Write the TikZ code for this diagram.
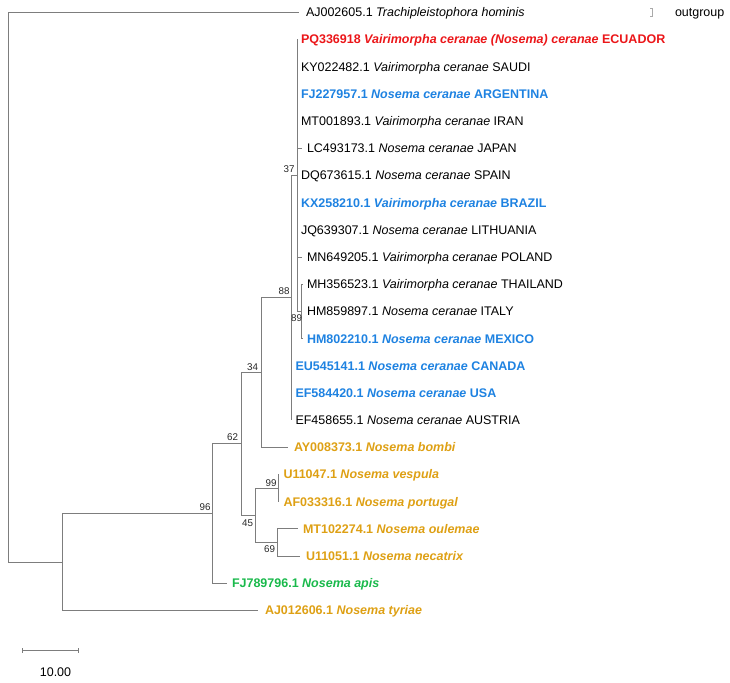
\documentclass[tikz,border=0pt]{standalone}
\usepackage{fontspec}
\setmainfont{Liberation Sans}
\definecolor{cred}{RGB}{235,22,25}
\definecolor{cblue}{RGB}{30,130,225}
\definecolor{cgold}{RGB}{222,160,20}
\definecolor{cgreen}{RGB}{25,185,75}
\definecolor{lgray}{RGB}{125,125,125}
\definecolor{bgray}{RGB}{170,170,170}
\newcommand{\leaffont}{\fontsize{12.5}{15}\selectfont}
\newcommand{\bsfont}{\fontsize{9.8}{11}\selectfont}
\tikzset{
  br/.style={draw=lgray, line width=0.75pt},
  lf/.style={anchor=west, inner sep=0pt, outer sep=0pt, font=\leaffont, text height=9pt, text depth=0pt},
  bs/.style={inner sep=0pt, font=\bsfont, text=black!85},
}
\begin{document}
\begin{tikzpicture}[x=1pt,y=-1pt]
\useasboundingbox (0,0) rectangle (730,682);
% internal nodes
\coordinate (root) at (8,287.1);
\coordinate (nB) at (62,561.9);
\coordinate (n96) at (212,513.4);
\coordinate (n62) at (241,443.8);
\coordinate (n34) at (261,372.4);
\coordinate (n88) at (291,297.7);
\coordinate (n37) at (297,175.4);
\coordinate (n89) at (301.5,311.3);
\coordinate (n45) at (255,515.1);
\coordinate (n99) at (278,488.0);
\coordinate (n69) at (277,542.3);
% leaf tips
\coordinate (t0) at (299,12.3);
\coordinate (t1) at (297,39.5);
\coordinate (t2) at (297,66.7);
\coordinate (t3) at (297,93.8);
\coordinate (t4) at (297,121.0);
\coordinate (t5) at (302,148.2);
\coordinate (t6) at (297,175.4);
\coordinate (t7) at (297,202.6);
\coordinate (t8) at (297,229.7);
\coordinate (t9) at (302,256.9);
\coordinate (t10) at (302.5,284.1);
\coordinate (t11) at (301.5,311.3);
\coordinate (t12) at (302.5,338.5);
\coordinate (t13) at (291,365.6);
\coordinate (t14) at (291,392.8);
\coordinate (t15) at (291,420.0);
\coordinate (t16) at (288,447.2);
\coordinate (t17) at (278,474.4);
\coordinate (t18) at (278,501.5);
\coordinate (t19) at (298,528.7);
\coordinate (t20) at (300,555.9);
\coordinate (t21) at (227,583.1);
\coordinate (t22) at (258,610.3);
% branches
\draw[br] (root) |- (t0);
\draw[br] (root) |- (nB);
\draw[br] (nB) |- (n96);
\draw[br] (nB) |- (t22);
\draw[br] (n96) |- (n62);
\draw[br] (n96) |- (t21);
\draw[br] (n62) |- (n34);
\draw[br] (n62) |- (n45);
\draw[br] (n34) |- (n88);
\draw[br] (n34) |- (t16);
\draw[br] (n88) |- (n37);
\draw[br] (n88) |- (t13);
\draw[br] (n88) |- (t14);
\draw[br] (n88) |- (t15);
\draw[br] (n37) |- (t1);
\draw[br] (n37) |- (t2);
\draw[br] (n37) |- (t3);
\draw[br] (n37) |- (t4);
\draw[br] (n37) |- (t5);
\draw[br] (n37) |- (t6);
\draw[br] (n37) |- (t7);
\draw[br] (n37) |- (t8);
\draw[br] (n37) |- (t9);
\draw[br] (n37) |- (n89);
\draw[br] (n89) |- (t10);
\draw[br] (n89) |- (t11);
\draw[br] (n89) |- (t12);
\draw[br] (n45) |- (n99);
\draw[br] (n45) |- (n69);
\draw[br] (n99) |- (t17);
\draw[br] (n99) |- (t18);
\draw[br] (n69) |- (t19);
\draw[br] (n69) |- (t20);
% leaf labels
\node[lf] (L0) at (306,12.3) {AJ002605.1 \textit{Trachipleistophora hominis}};
\node[lf, text=cred] (L1) at (301,39.5) {\textbf{PQ336918 \textit{Vairimorpha ceranae (Nosema) ceranae} ECUADOR}};
\node[lf] (L2) at (301,66.7) {KY022482.1 \textit{Vairimorpha ceranae} SAUDI};
\node[lf, text=cblue] (L3) at (301,93.8) {\textbf{FJ227957.1 \textit{Nosema ceranae} ARGENTINA}};
\node[lf] (L4) at (301,121.0) {MT001893.1 \textit{Vairimorpha ceranae} IRAN};
\node[lf] (L5) at (307,148.2) {LC493173.1 \textit{Nosema ceranae} JAPAN};
\node[lf] (L6) at (301,175.4) {DQ673615.1 \textit{Nosema ceranae} SPAIN};
\node[lf, text=cblue] (L7) at (301,202.6) {\textbf{KX258210.1 \textit{Vairimorpha ceranae} BRAZIL}};
\node[lf] (L8) at (301,229.7) {JQ639307.1 \textit{Nosema ceranae} LITHUANIA};
\node[lf] (L9) at (307,256.9) {MN649205.1 \textit{Vairimorpha ceranae} POLAND};
\node[lf] (L10) at (307,284.1) {MH356523.1 \textit{Vairimorpha ceranae} THAILAND};
\node[lf] (L11) at (307,311.3) {HM859897.1 \textit{Nosema ceranae} ITALY};
\node[lf, text=cblue] (L12) at (307,338.5) {\textbf{HM802210.1 \textit{Nosema ceranae} MEXICO}};
\node[lf, text=cblue] (L13) at (295.5,365.6) {\textbf{EU545141.1 \textit{Nosema ceranae} CANADA}};
\node[lf, text=cblue] (L14) at (295.5,392.8) {\textbf{EF584420.1 \textit{Nosema ceranae} USA}};
\node[lf] (L15) at (295.5,420.0) {EF458655.1 \textit{Nosema ceranae} AUSTRIA};
\node[lf, text=cgold] (L16) at (294,447.2) {\textbf{AY008373.1 \textit{Nosema bombi}}};
\node[lf, text=cgold] (L17) at (283.5,474.4) {\textbf{U11047.1 \textit{Nosema vespula}}};
\node[lf, text=cgold] (L18) at (283.5,501.5) {\textbf{AF033316.1 \textit{Nosema portugal}}};
\node[lf, text=cgold] (L19) at (303,528.7) {\textbf{MT102274.1 \textit{Nosema oulemae}}};
\node[lf, text=cgold] (L20) at (306,555.9) {\textbf{U11051.1 \textit{Nosema necatrix}}};
\node[lf, text=cgreen] (L21) at (232,583.1) {\textbf{FJ789796.1 \textit{Nosema apis}}};
\node[lf, text=cgold] (L22) at (265,610.3) {\textbf{AJ012606.1 \textit{Nosema tyriae}}};
% bootstrap values
\node[bs] (b37) at (289,169) {37};
\node[bs] (b88) at (284,291) {88};
\node[bs] (b89) at (296.5,318) {89};
\node[bs] (b34) at (252.5,367) {34};
\node[bs] (b62) at (232.5,437) {62};
\node[bs] (b96) at (205,507) {96};
\node[bs] (b99) at (271,483) {99};
\node[bs] (b45) at (247.5,523) {45};
\node[bs] (b69) at (269.5,549) {69};
% outgroup bracket
\coordinate (bk1) at (650,8);
\coordinate (bk2) at (652.5,8);
\coordinate (bk3) at (652.5,16.5);
\coordinate (bk4) at (650,16.5);
\draw[draw=bgray, line width=0.6pt] (bk1) -- (bk2) -- (bk3) -- (bk4);
\node[lf] (og) at (675,12.3) {outgroup};
% scale bar
\coordinate (s1) at (22,650);
\coordinate (s2) at (78,650);
\draw[br] (s1) -- (s2);
\draw[br] ([yshift=-2.5pt]s1) -- ([yshift=2.5pt]s1);
\draw[br] ([yshift=-2.5pt]s2) -- ([yshift=2.5pt]s2);
\node[inner sep=0pt, font=\leaffont, text height=9pt, text depth=0pt] (sl) at (55.5,672) {10.00};
\end{tikzpicture}
\end{document}
